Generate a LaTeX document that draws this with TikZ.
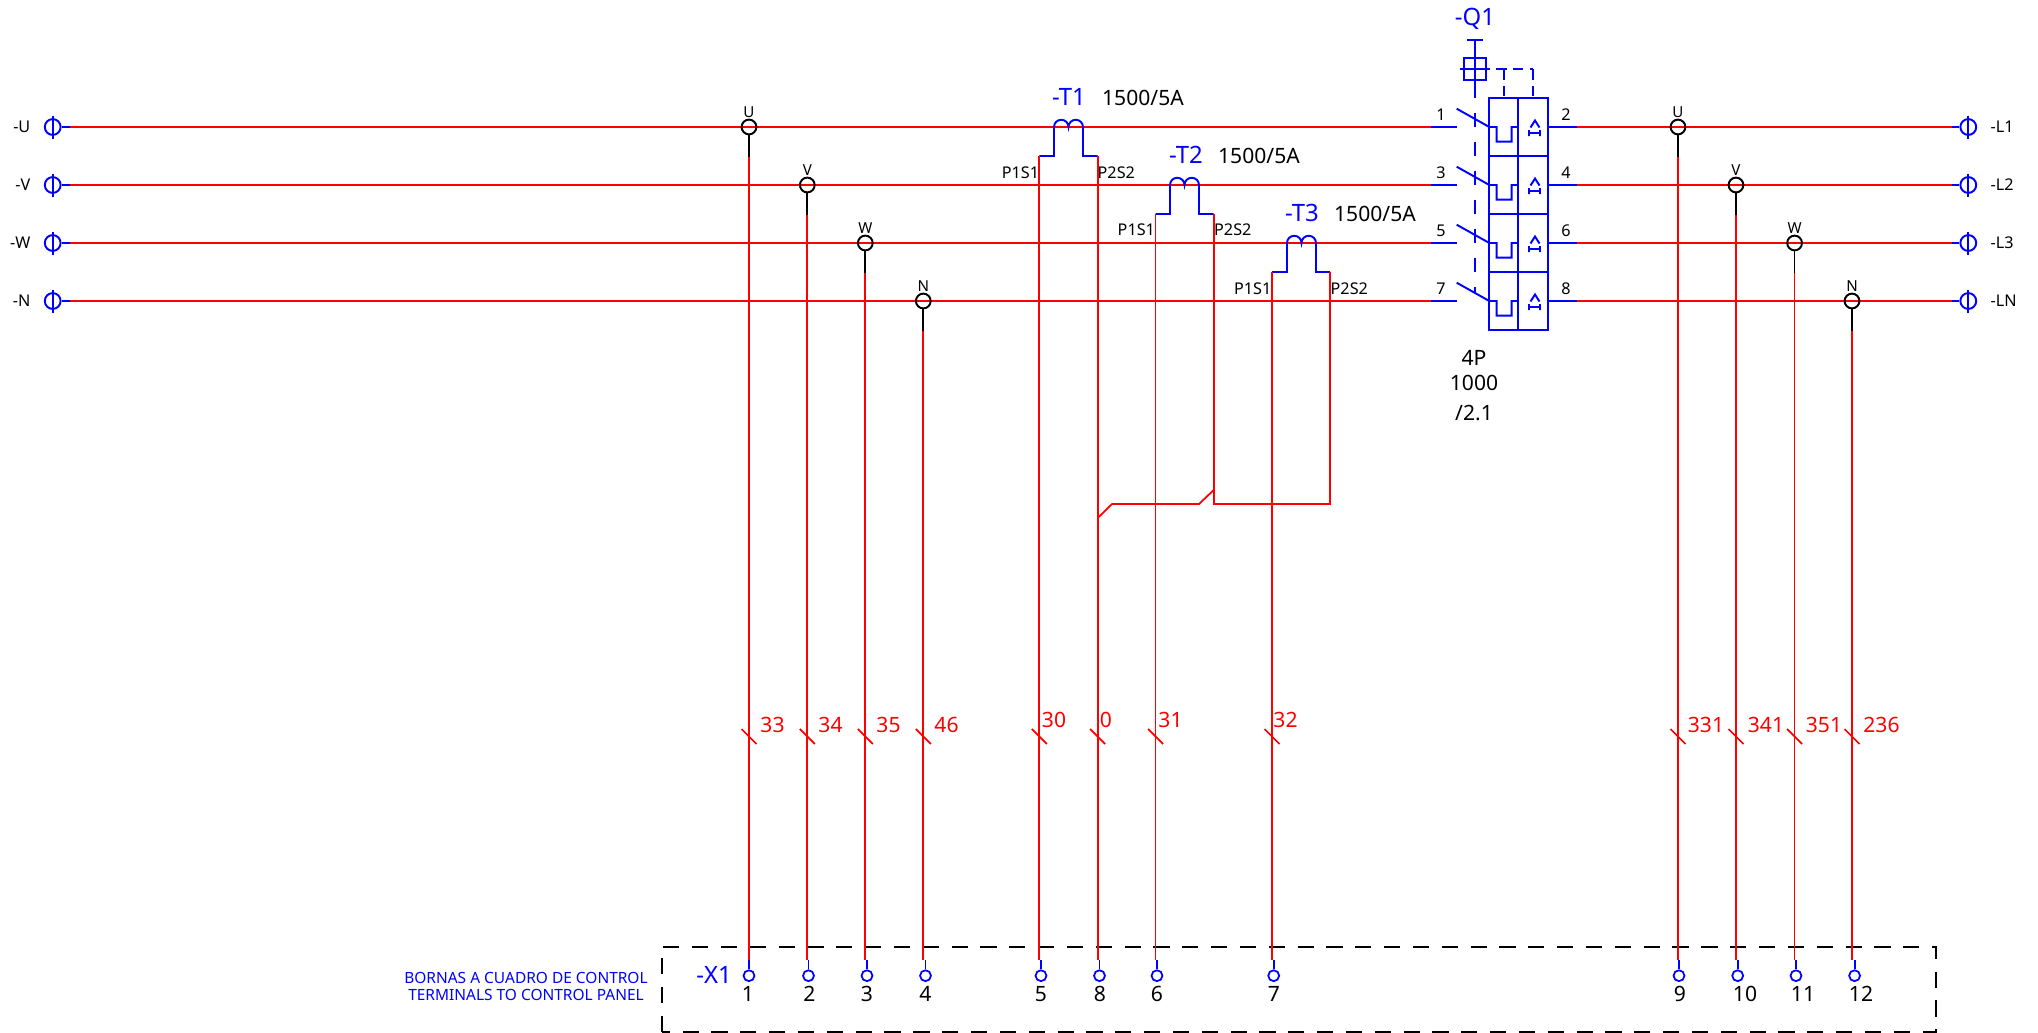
\documentclass[tikz,border=0pt]{standalone}
\usepackage{fontspec}
\setmainfont{Noto Sans}
\tikzset{
  wire/.style={draw=red,line width=0.5pt},
  bluewire/.style={draw=blue,line width=0.55pt},
  stub/.style={draw=black,line width=0.5pt},
  bushole/.style={circle,draw=blue,line width=0.55pt,minimum size=4.5pt,inner sep=0pt},
  tapring/.style={circle,draw=black,line width=0.55pt,minimum size=4.2pt,inner sep=0pt},
  xterm/.style={circle,draw=blue,line width=0.5pt,minimum size=3.1pt,inner sep=0pt},
  biglabel/.style={inner sep=0pt,font=\fontsize{6}{7}\selectfont},
  tag/.style={inner sep=0pt,text=blue,font=\fontsize{6.8}{8}\selectfont},
  wirelabel/.style={biglabel,text=red},
  smalllabel/.style={inner sep=0pt,font=\fontsize{4.6}{5}\selectfont},
  tinylabel/.style={inner sep=0pt,font=\fontsize{4.3}{5}\selectfont},
  panellabel/.style={inner sep=0pt,text=blue,align=center,font=\fontsize{4.4}{5}\selectfont},
  panelline/.style={draw=black,line width=0.5pt,dash pattern=on 4.6pt off 3.6pt},
  linkdash/.style={draw=blue,line width=0.55pt,dash pattern=on 4.2pt off 4.04pt},
  handledash/.style={draw=blue,line width=0.55pt,dash pattern=on 3pt off 1.8pt}
}
\begin{document}
\begin{tikzpicture}[x=0.01cm,y=-0.01cm]
\useasboundingbox (0,0) rectangle (2038,1033);

% incoming terminals
\node[bushole] (inU) at (52.7,127) {};
\node[bushole] (inV) at (52.7,185) {};
\node[bushole] (inW) at (52.7,243) {};
\node[bushole] (inN) at (52.7,301) {};
\draw[bluewire] (52.7,115.5) -- (52.7,138.5);
\draw[bluewire] (52.7,173.5) -- (52.7,196.5);
\draw[bluewire] (52.7,231.5) -- (52.7,254.5);
\draw[bluewire] (52.7,289.5) -- (52.7,312.5);
\draw[bluewire] (inU.east) -- ++(8,0) coordinate (leadU);
\draw[bluewire] (inV.east) -- ++(8,0) coordinate (leadV);
\draw[bluewire] (inW.east) -- ++(8,0) coordinate (leadW);
\draw[bluewire] (inN.east) -- ++(8,0) coordinate (leadN);
\node[smalllabel,anchor=east] (nameU) at (31,127) {-U};
\node[smalllabel,anchor=east] (nameV) at (31,185) {-V};
\node[smalllabel,anchor=east] (nameW) at (31,243) {-W};
\node[smalllabel,anchor=east] (nameN) at (31,301) {-N};

% outgoing terminals
\node[bushole] (outA) at (1968.3,127) {};
\node[bushole] (outB) at (1968.3,185) {};
\node[bushole] (outC) at (1968.3,243) {};
\node[bushole] (outD) at (1968.3,301) {};
\draw[bluewire] (1968.3,115.5) -- (1968.3,138.5);
\draw[bluewire] (1968.3,173.5) -- (1968.3,196.5);
\draw[bluewire] (1968.3,231.5) -- (1968.3,254.5);
\draw[bluewire] (1968.3,289.5) -- (1968.3,312.5);
\draw[bluewire] (outA.west) -- ++(-7,0) coordinate (leadA);
\draw[bluewire] (outB.west) -- ++(-7,0) coordinate (leadB);
\draw[bluewire] (outC.west) -- ++(-7,0) coordinate (leadC);
\draw[bluewire] (outD.west) -- ++(-7,0) coordinate (leadD);
\node[smalllabel,anchor=west] (nameA) at (1990,127) {-L1};
\node[smalllabel,anchor=west] (nameB) at (1990,185) {-L2};
\node[smalllabel,anchor=west] (nameC) at (1990,243) {-L3};
\node[smalllabel,anchor=west] (nameD) at (1990,301) {-LN};

% breaker poles, leads
\coordinate (polein1) at (1430.7,127);
\coordinate (polein3) at (1430.7,185);
\coordinate (polein5) at (1430.7,243);
\coordinate (polein7) at (1430.7,301);
\coordinate (poleout2) at (1576.7,127);
\coordinate (poleout4) at (1576.7,185);
\coordinate (poleout6) at (1576.7,243);
\coordinate (poleout8) at (1576.7,301);
\draw[bluewire] (polein1) -- (1457,127);
\draw[bluewire] (polein3) -- (1457,185);
\draw[bluewire] (polein5) -- (1457,243);
\draw[bluewire] (polein7) -- (1457,301);
\draw[bluewire] (1547.7,127) -- (poleout2);
\draw[bluewire] (1547.7,185) -- (poleout4);
\draw[bluewire] (1547.7,243) -- (poleout6);
\draw[bluewire] (1547.7,301) -- (poleout8);

% busbars
\draw[wire] (leadU) -- (polein1);
\draw[wire] (leadV) -- (polein3);
\draw[wire] (leadW) -- (polein5);
\draw[wire] (leadN) -- (polein7);
\draw[wire] (poleout2) -- (leadA);
\draw[wire] (poleout4) -- (leadB);
\draw[wire] (poleout6) -- (leadC);
\draw[wire] (poleout8) -- (leadD);

% tap rings
\node[tapring] (tapU) at (749,127) {};
\node[tapring] (tapV) at (807.3,185) {};
\node[tapring] (tapW) at (865.3,243) {};
\node[tapring] (tapN) at (923.3,301) {};
\node[tapring] (tapA) at (1678,127) {};
\node[tapring] (tapB) at (1736,185) {};
\node[tapring] (tapC) at (1794.6,243) {};
\node[tapring] (tapD) at (1852,301) {};
\node[tinylabel] (tagU) at (749,112) {U};
\node[tinylabel] (tagV) at (807.3,170) {V};
\node[tinylabel] (tagW) at (865.3,228) {W};
\node[tinylabel] (tagN) at (923.3,286) {N};
\node[tinylabel] (tagA) at (1678,112) {U};
\node[tinylabel] (tagB) at (1736,170) {V};
\node[tinylabel] (tagC) at (1794.6,228) {W};
\node[tinylabel] (tagD) at (1852,286) {N};
\draw[stub] (tapU.south) -- (749,157) coordinate (dropU);
\draw[stub] (tapV.south) -- (807.3,215) coordinate (dropV);
\draw[stub] (tapW.south) -- (865.3,273) coordinate (dropW);
\draw[stub] (tapN.south) -- (923.3,331) coordinate (dropN);
\draw[stub] (tapA.south) -- (1678,157) coordinate (dropA);
\draw[stub] (tapB.south) -- (1736,215) coordinate (dropB);
\draw[stub] (tapC.south) -- (1794.6,273) coordinate (dropC);
\draw[stub] (tapD.south) -- (1852,331) coordinate (dropD);

% current transformers
\draw[bluewire] (1039.3,156) coordinate (ctA1) -- (1054,156) -- (1054,127) arc[start angle=180,end angle=360,radius=7.25] arc[start angle=180,end angle=360,radius=7.25] -- (1083,156) -- (1097.7,156) coordinate (ctA2);
\draw[bluewire] (1155.6,214) coordinate (ctB1) -- (1170,214) -- (1170,185) arc[start angle=180,end angle=360,radius=7.25] arc[start angle=180,end angle=360,radius=7.25] -- (1199,214) -- (1213.7,214) coordinate (ctB2);
\draw[bluewire] (1272,272) coordinate (ctC1) -- (1287,272) -- (1287,243) arc[start angle=180,end angle=360,radius=7.25] arc[start angle=180,end angle=360,radius=7.25] -- (1316,272) -- (1330,272) coordinate (ctC2);
\node[tag] (nameT1) at (1069,97) {-T1};
\node[tag] (nameT2) at (1186,155) {-T2};
\node[tag] (nameT3) at (1302,213) {-T3};
\node[biglabel] (ratioT1) at (1143,98) {1500/5A};
\node[biglabel] (ratioT2) at (1259,156) {1500/5A};
\node[biglabel] (ratioT3) at (1375,214) {1500/5A};
\node[smalllabel,anchor=east] (p1T1) at (1039.8,173) {P1S1};
\node[smalllabel,anchor=west] (p2T1) at (1097,173) {P2S2};
\node[smalllabel,anchor=east] (p1T2) at (1155.6,230) {P1S1};
\node[smalllabel,anchor=west] (p2T2) at (1213.5,230) {P2S2};
\node[smalllabel,anchor=east] (p1T3) at (1272,288.5) {P1S1};
\node[smalllabel,anchor=west] (p2T3) at (1330,288.5) {P2S2};

% common return of the secondaries
\draw[wire] (ctB2) -- (1213.7,504) -- (1330,504) -- (ctC2);
\draw[wire] (1097.7,518) -- (1112,504) -- (1199,504) -- (1213.7,490);

% breaker body
\draw[bluewire] (1489.3,98) rectangle (1547.7,330.3);
\draw[bluewire] (1518,98) -- (1518,330.3);
\draw[bluewire] (1489.3,156) -- (1547.7,156);
\draw[bluewire] (1489.3,214) -- (1547.7,214);
\draw[bluewire] (1489.3,272) -- (1547.7,272);

% contacts and thermal elements
\draw[bluewire] (1456.7,108.7) -- (1489.3,127) -- (1496.7,127) -- (1496.7,141.7) -- (1511.7,141.7) -- (1511.7,127) -- (1518,127);
\draw[bluewire] (1456.7,166.7) -- (1489.3,185) -- (1496.7,185) -- (1496.7,199.7) -- (1511.7,199.7) -- (1511.7,185) -- (1518,185);
\draw[bluewire] (1456.7,224.7) -- (1489.3,243) -- (1496.7,243) -- (1496.7,257.7) -- (1511.7,257.7) -- (1511.7,243) -- (1518,243);
\draw[bluewire] (1456.7,282.7) -- (1489.3,301) -- (1496.7,301) -- (1496.7,315.7) -- (1511.7,315.7) -- (1511.7,301) -- (1518,301);

% overcurrent marks
\draw[bluewire] (1530.5,127.5) -- (1535,120.5) -- (1539.5,127.5) (1529,133) -- (1540,133) (1529,130) -- (1529,136) (1540,130) -- (1540,136);
\draw[bluewire] (1530.5,185.5) -- (1535,178.5) -- (1539.5,185.5) (1529,191) -- (1540,191) (1529,188) -- (1529,194) (1540,188) -- (1540,194);
\draw[bluewire] (1530.5,243.5) -- (1535,236.5) -- (1539.5,243.5) (1529,249) -- (1540,249) (1529,246) -- (1529,252) (1540,246) -- (1540,252);
\draw[bluewire] (1530.5,301.5) -- (1535,294.5) -- (1539.5,301.5) (1529,307) -- (1540,307) (1529,304) -- (1529,310) (1540,304) -- (1540,310);

% pole numbers
\node[smalllabel] (pole1) at (1441,115) {1};
\node[smalllabel] (pole3) at (1441,173) {3};
\node[smalllabel] (pole5) at (1441,231) {5};
\node[smalllabel] (pole7) at (1441,289) {7};
\node[smalllabel] (pole2) at (1566,115) {2};
\node[smalllabel] (pole4) at (1566,173) {4};
\node[smalllabel] (pole6) at (1566,231) {6};
\node[smalllabel] (pole8) at (1566,289) {8};

% operating handle and mechanical link
\draw[bluewire] (1467,40) -- (1483,40);
\draw[bluewire] (1475,40) -- (1475,98);
\draw[bluewire] (1463.7,58) rectangle (1486,80);
\draw[bluewire] (1460,69) -- (1490,69);
\draw[linkdash] (1475,112.7) -- (1475,293);
\draw[handledash] (1496,69) -- (1533,69);
\draw[handledash] (1533,69) -- (1533,98);
\draw[handledash] (1504,69) -- (1504,98);
\node[tag] (nameQ1) at (1475,19) {-Q1};
\node[biglabel] (poles) at (1474,358) {4P};
\node[biglabel] (rating) at (1474,383) {1000};
\node[biglabel] (sheet) at (1474,413) {/2.1};

% terminal strip
\draw[panelline] (662,1032) -- (662,946.7) -- (1936,946.7) -- (1936,1032) -- cycle;
\coordinate (stripin) at (749,960);
\node[xterm] (x1) at (749,975.7) {};
\node[xterm] (x2) at (808.5,975.7) {};
\node[xterm] (x3) at (867,975.7) {};
\node[xterm] (x4) at (925.5,975.7) {};
\node[xterm] (x5) at (1041,975.7) {};
\node[xterm] (x8) at (1099.5,975.7) {};
\node[xterm] (x6) at (1157,975.7) {};
\node[xterm] (x7) at (1273.7,975.7) {};
\node[xterm] (x9) at (1679,975.7) {};
\node[xterm] (x10) at (1737.7,975.7) {};
\node[xterm] (x11) at (1796,975.7) {};
\node[xterm] (x12) at (1854.6,975.7) {};
\node[biglabel] (n1) at (748,994) {1};
\node[biglabel] (n2) at (809.5,994) {2};
\node[biglabel] (n3) at (867,994) {3};
\node[biglabel] (n4) at (925.5,994) {4};
\node[biglabel] (n5) at (1041,994) {5};
\node[biglabel] (n8) at (1100,994) {8};
\node[biglabel] (n6) at (1157,994) {6};
\node[biglabel] (n7) at (1274,994) {7};
\node[biglabel] (n9) at (1680,994) {9};
\node[biglabel] (n10) at (1745,994) {10};
\node[biglabel] (n11) at (1803,994) {11};
\node[biglabel] (n12) at (1861,994) {12};
\node[tag] (nameX1) at (714,975) {-X1};
\node[panellabel] (panel) at (526,986.5) {BORNAS A CUADRO DE CONTROL\\[-0.3pt]TERMINALS TO CONTROL PANEL};

% wires down to the strip
\draw[wire] (dropU) -- (dropU |- stripin);
\draw[wire] (dropV) -- (dropV |- stripin);
\draw[wire] (dropW) -- (dropW |- stripin);
\draw[wire] (dropN) -- (dropN |- stripin);
\draw[wire] (ctA1) -- (ctA1 |- stripin);
\draw[wire] (ctA2) -- (ctA2 |- stripin);
\draw[wire] (ctB1) -- (ctB1 |- stripin);
\draw[wire] (ctC1) -- (ctC1 |- stripin);
\draw[wire] (dropA) -- (dropA |- stripin);
\draw[wire] (dropB) -- (dropB |- stripin);
\draw[wire] (dropC) -- (dropC |- stripin);
\draw[wire] (dropD) -- (dropD |- stripin);
\draw[bluewire] (x1.north) -- (x1.north |- stripin);
\draw[bluewire] (x2.north) -- (x2.north |- stripin);
\draw[bluewire] (x3.north) -- (x3.north |- stripin);
\draw[bluewire] (x4.north) -- (x4.north |- stripin);
\draw[bluewire] (x5.north) -- (x5.north |- stripin);
\draw[bluewire] (x8.north) -- (x8.north |- stripin);
\draw[bluewire] (x6.north) -- (x6.north |- stripin);
\draw[bluewire] (x7.north) -- (x7.north |- stripin);
\draw[bluewire] (x9.north) -- (x9.north |- stripin);
\draw[bluewire] (x10.north) -- (x10.north |- stripin);
\draw[bluewire] (x11.north) -- (x11.north |- stripin);
\draw[bluewire] (x12.north) -- (x12.north |- stripin);

% wire marks and numbers
\draw[wire] (741.5,729) -- (756.5,744);
\draw[wire] (799.8,729) -- (814.8,744);
\draw[wire] (857.8,729) -- (872.8,744);
\draw[wire] (915.8,729) -- (930.8,744);
\draw[wire] (1031.8,729) -- (1046.8,744);
\draw[wire] (1090.2,729) -- (1105.2,744);
\draw[wire] (1148.1,729) -- (1163.1,744);
\draw[wire] (1264.5,729) -- (1279.5,744);
\draw[wire] (1670.5,729) -- (1685.5,744);
\draw[wire] (1728.5,729) -- (1743.5,744);
\draw[wire] (1787.1,729) -- (1802.1,744);
\draw[wire] (1844.5,729) -- (1859.5,744);
\node[wirelabel] (w33) at (772.5,725) {33};
\node[wirelabel] (w34) at (830.5,725) {34};
\node[wirelabel] (w35) at (888.5,725) {35};
\node[wirelabel] (w46) at (946.5,725) {46};
\node[wirelabel] (w30) at (1054,720) {30};
\node[wirelabel] (w0) at (1106,720) {0};
\node[wirelabel] (w31) at (1170.5,720) {31};
\node[wirelabel] (w32) at (1285.5,720) {32};
\node[wirelabel] (w331) at (1706,725) {331};
\node[wirelabel] (w341) at (1766,725) {341};
\node[wirelabel] (w351) at (1824,725) {351};
\node[wirelabel] (w236) at (1881.5,725) {236};

\end{tikzpicture}
\end{document}
